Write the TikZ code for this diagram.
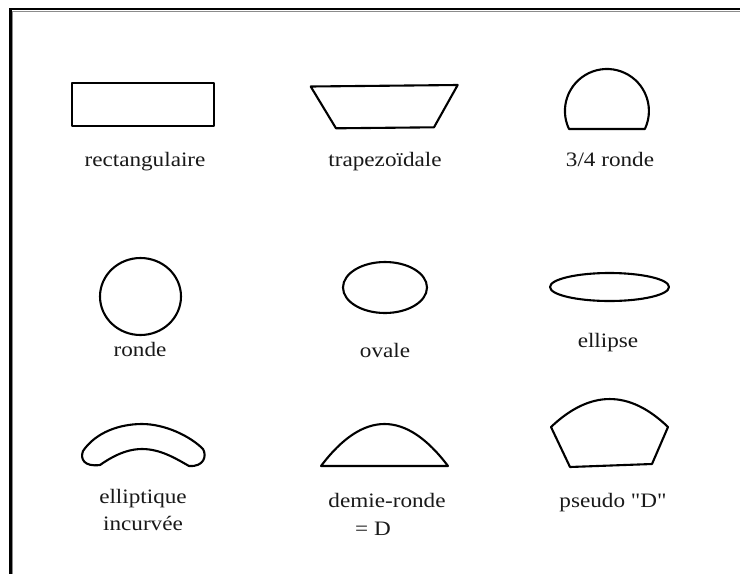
\documentclass[tikz,border=0pt]{standalone}
\usepackage{fontspec}
\setmainfont{Liberation Serif}[Ligatures=TeXOff]
\usepackage{graphicx}
\newcommand{\lbltxt}[1]{\scalebox{1.13}[1]{#1}}
\tikzset{
  shp/.style={draw=black, line width=2.1pt, line join=round},
  lbl/.style={anchor=base, inner sep=0pt, font=\fontsize{20.5}{24}\selectfont, text=black!90},
}
\begin{document}
\begin{tikzpicture}[x=1pt, y=-1pt]
\useasboundingbox (0,0) rectangle (740,574);
\fill[white] (0,0) rectangle (740,574);
% frame
\draw[black!45, line width=1pt] (740,11.5) -- (12.8,11.5) -- (12.8,574);
\draw[black, line width=2.6pt] (740,9) -- (10.7,9) -- (10.7,574);

% row 1
\draw[shp] (72,83) rectangle (214,126);
\node[lbl] (l1) at (145,166) {\lbltxt{rectangulaire}};

\draw[shp] (310.7,86.5) -- (457.7,85) -- (434,127.3) -- (336,128.3) -- cycle;
\node[lbl] (l2) at (385,166) {\lbltxt{trapezoïdale}};

\draw[shp] (569,129) arc[start angle=154.6, end angle=385.4, radius=42] -- cycle;
\node[lbl] (l3) at (610,166) {\lbltxt{3/4 ronde}};

% row 2
\draw[shp] (140.5,296.5) ellipse[x radius=40.5, y radius=38.5];
\node[lbl] (l4) at (140,356) {\lbltxt{ronde}};

\draw[shp] (385,287.5) ellipse[x radius=42, y radius=25.5];
\node[lbl] (l5) at (385,357) {\lbltxt{ovale}};

\draw[shp] (609.5,287) ellipse[x radius=59.5, y radius=14];
\node[lbl] (l6) at (608,347.3) {\lbltxt{ellipse}};

% row 3
\draw[shp] (83,451) .. controls (96,432) and (120,424) .. (142,424)
  .. controls (165,424) and (190,436) .. (203,449)
  .. controls (207,456) and (204,467) .. (189,466)
  .. controls (175,458) and (160,449) .. (142,449)
  .. controls (125,449) and (110,458) .. (100,465)
  .. controls (84,467) and (80,459) .. (83,451) -- cycle;
\node[lbl] (l7a) at (143,503.3) {\lbltxt{elliptique}};
\node[lbl] (l7b) at (143,530.7) {\lbltxt{incurvée}};

\draw[shp] (321,466) .. controls (363.3,410) and (405.7,410) .. (448,466) -- cycle;
\node[lbl] (l8a) at (387,507.7) {\lbltxt{demie-ronde}};
\node[lbl] (l8b) at (373,535.7) {\lbltxt{= D}};

\draw[shp] (551,427) .. controls (590.3,389.7) and (629.3,389.7) .. (668,427) -- (652,464) -- (570,467) -- cycle;
\node[lbl] (l9) at (613,507.7) {\lbltxt{pseudo "D"}};
\end{tikzpicture}
\end{document}
